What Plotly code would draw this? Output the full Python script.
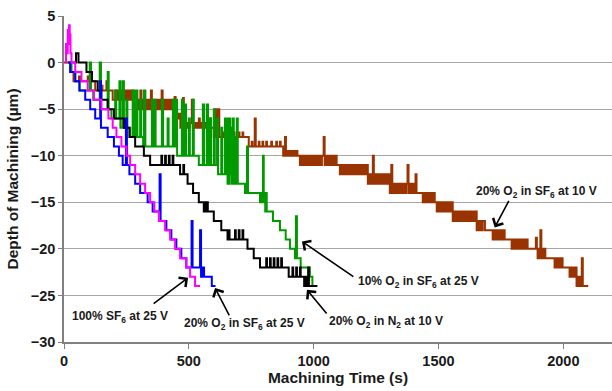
import plotly.graph_objects as go

# ---------------- data ----------------
x_ticks = [0, 500, 1000, 1500, 2000]
y_ticks = [-30, -25, -20, -15, -10, -5, 0, 5]

# 100% SF6 at 25 V (magenta)
magenta_t = [5, 8, 12, 15, 18, 20, 23, 26, 30, 45, 70, 95, 120, 150, 178, 195, 210, 230, 250, 265,
             285, 305, 325, 345, 362, 380, 405, 425, 445, 465, 490, 505, 525, 545]
magenta_y = [0, 2, 1, 3.5, 2, 4, 3, 1, 0, -1, -2, -3, -4, -5, -6, -7, -8, -9, -10, -11,
             -12, -13, -14, -15, -16, -17, -18, -19, -20, -21, -22, -23, -24, -24]

# 20% O2 in SF6 at 25 V (blue)
blue_t = [17, 25, 45, 62, 85, 105, 125, 145, 148, 175,
          200, 220, 235, 248, 252, 262, 285, 305, 335, 355,
          383, 387, 410, 430, 450, 470, 490, 511, 515, 545,
          549, 552, 555, 558, 561, 592, 607]
blue_y = [0, -1, -2, -3, -4, -5, -6, -2, -7, -8,
          -9, -10, -11, -6, -11, -12, -13, -14, -15, -16,
          -12, -17, -18, -19, -20, -21, -22, -17, -22, -18,
          -23, -22, -23, -22, -23, -24, -24]

# 20% O2 in N2 at 10 V (black)
black_t = [35, 48, 58, 90, 112, 135, 150, 175, 200, 240,
           262, 285, 320, 345, 390, 393, 405, 408, 420, 423,
           435, 438, 465, 478, 481, 495, 517, 540, 560, 567,
           570, 573, 576, 600, 630, 655, 660, 663, 685, 688,
           700, 703, 715, 718, 735, 760, 785, 810, 813, 825,
           828, 840, 843, 855, 858, 870, 873, 900, 915, 918,
           930, 933, 945, 948, 962, 965, 968, 971, 975, 978,
           981, 1015]
black_y = [0, 1, 0, -1, -2, -3, -4, -5, -6, -7,
           -8, -9, -10, -11, -10, -11, -10, -11, -10, -11,
           -10, -11, -12, -11, -12, -13, -14, -15, -16, -15,
           -16, -15, -16, -17, -18, -19, -18, -19, -18, -19,
           -18, -19, -18, -19, -20, -21, -22, -21, -22, -21,
           -22, -21, -22, -21, -22, -21, -22, -23, -22, -23,
           -22, -23, -22, -23, -24, -23, -24, -23, -24, -22,
           -24, -24]

# 10% O2 in SF6 at 25 V (green)
green_t = [15, 30, 45, 62, 103, 108, 117, 143, 148, 175,
           179, 190, 205, 209, 222, 226, 235, 240, 250, 254,
           265, 275, 280, 288, 294, 305, 309, 317, 320, 326,
           352, 358, 362, 367, 392, 397, 415, 419, 436, 441,
           449, 453, 472, 476, 484, 489, 500, 504, 516, 520,
           540, 556, 561, 572, 577, 585, 589, 600, 604, 613,
           617, 630, 634, 645, 648, 652, 655, 658, 661, 664,
           667, 670, 673, 677, 680, 684, 687, 692, 696, 725,
           733, 737, 785, 793, 797, 800, 803, 806, 809, 812,
           837, 865, 888, 905, 925, 929, 933, 948, 985, 995,
           1005]
green_y = [0, -1, -2, -3, 0, -3, -4, 0, -5, -1,
           -5, -6, -3, -6, -2, -7, -2, -7, -4, -7,
           -8, -3, -8, -3, -8, -4, -8, -9, -3, -9,
           -4, -9, -4, -9, -4, -9, -6, -9, -4, -9,
           -4, -10, -4, -10, -4.5, -10, -6, -10, -4, -10,
           -11, -4.5, -11, -4.5, -11, -6, -11, -5, -11, -6,
           -12, -7, -12, -6, -12, -6, -13, -6, -13, -6,
           -12, -7, -13, -6, -13, -8, -13, -6, -13, -14,
           -9, -14, -15, -14, -10, -15, -14, -16, -14, -16,
           -17, -18, -19, -20, -21, -16.5, -21, -22, -23, -24,
           -24]

# 20% O2 in SF6 at 10 V (brown): (time, depth) steps
brown_steps = [
    (0, 0), (25, -1), (38, -2), (60, -1.5), (64, -2), (95, -1.5), (99, -2), (125, -3), (150, -2.5), (154, -3),
    (170, -2), (174, -3), (195, -4), (205, -3), (212, -4), (220, -3), (228, -4), (236, -3), (244, -4), (252, -3),
    (260, -4), (268, -3), (276, -4),
    (285, -5), (293, -4), (301, -5), (306, -3), (310, -5), (318, -4), (326, -5), (334, -4), (342, -5), (348, -3),
    (352, -5), (360, -4), (368, -5), (376, -4), (384, -5), (391, -3), (395, -5), (403, -4), (411, -5), (419, -4),
    (427, -5), (435, -4), (443, -3.7), (447, -5),
    (453, -6), (460, -5.5), (466, -7),
    (474, -6.5), (477, -3.8), (480, -7), (488, -6.5), (496, -7), (504, -6.5), (512, -4), (516, -7), (524, -6.5),
    (532, -7), (540, -6), (544, -7), (552, -6.5), (560, -7), (568, -6.5), (576, -7), (584, -6), (588, -7),
    (600, -8), (606, -5), (610, -8), (618, -5), (622, -8), (635, -7.5), (638, -8), (650, -7.5), (653, -8),
    (665, -7.5), (668, -8), (680, -7.5), (683, -8), (700, -7.5), (703, -8), (715, -7.5), (718, -8),
    (740, -9), (752, -8.5), (755, -9), (764, -6), (768, -9), (780, -8.5), (783, -9), (795, -8.5), (798, -9),
    (810, -8.5), (813, -9), (830, -8.5), (833, -9), (850, -8.5), (853, -9), (865, -8.5), (868, -9),
    (878, -10), (885, -8), (889, -10), (895, -9.5), (903, -10), (911, -9.5), (919, -10), (927, -9.5), (935, -10),
    (945, -11), (953, -10), (961, -11), (969, -10), (977, -11), (985, -10), (993, -11), (1001, -10), (1009, -11),
    (1017, -10), (1025, -11), (1033, -10), (1040, -8), (1044, -11), (1052, -10), (1060, -11), (1068, -10),
    (1076, -11), (1084, -10), (1092, -11),
    (1105, -12), (1113, -11), (1121, -12), (1129, -11), (1137, -12), (1145, -11), (1153, -12), (1161, -11),
    (1169, -12), (1177, -11), (1185, -12), (1193, -11), (1201, -12), (1209, -11),
    (1217, -13), (1225, -12), (1233, -13), (1237, -10), (1241, -13), (1249, -12), (1257, -13), (1265, -12),
    (1273, -13), (1281, -12), (1289, -13), (1297, -12),
    (1305, -14), (1311, -11), (1315, -14), (1323, -13), (1331, -14), (1339, -13), (1347, -14), (1355, -13),
    (1363, -14), (1371, -13), (1376, -11), (1380, -14), (1388, -13), (1396, -14), (1404, -13), (1408, -12),
    (1412, -14),
    (1437, -15), (1445, -14), (1453, -15), (1461, -14), (1469, -15), (1477, -14), (1485, -15),
    (1493, -16), (1501, -15), (1509, -16), (1517, -15), (1525, -16), (1533, -15), (1541, -16), (1549, -15),
    (1557, -17), (1565, -16), (1573, -17), (1581, -16), (1589, -17), (1597, -16), (1605, -17), (1613, -16),
    (1621, -17), (1629, -16), (1637, -17), (1645, -16),
    (1653, -18), (1661, -17), (1669, -18), (1677, -17), (1686, -18),
    (1717, -19), (1725, -18), (1733, -19), (1741, -18), (1749, -19), (1757, -18), (1765, -19),
    (1793, -20), (1801, -19), (1809, -20), (1817, -19), (1825, -20), (1833, -19), (1841, -20), (1849, -19),
    (1857, -20), (1890, -18.8), (1894, -20),
    (1897, -21), (1905, -20), (1908, -18), (1912, -21), (1920, -20), (1928, -21),
    (1965, -22), (1973, -21), (1981, -22), (1989, -21), (1997, -22),
    (2025, -23), (2033, -22), (2041, -23), (2049, -22),
    (2053, -24), (2061, -23), (2069, -24), (2074, -21), (2078, -24), (2100, -24),
]
brown_t = [p[0] for p in brown_steps]
brown_y = [p[1] for p in brown_steps]

# annotation labels (text at label_t/label_y, arrow from tail to head)
label_text = ["100% SF<sub>6</sub> at 25 V",
              "20% O<sub>2</sub> in SF<sub>6</sub> at 25 V",
              "10% O<sub>2</sub> in SF<sub>6</sub> at 25 V",
              "20% O<sub>2</sub> in N<sub>2</sub> at 10 V",
              "20% O<sub>2</sub> in SF<sub>6</sub> at 10 V"]
label_t = [225, 721, 1421, 1289, 1893]
label_y = [-27.3, -28.1, -23.6, -27.9, -13.9]
head_t = [497, 605, 953, 973, 1725]
head_y = [-23.1, -24.2, -19.2, -24.4, -17.7]
tail_t = [353, 665, 1165, 1057, 1785]
tail_y = [-26.0, -27.3, -23.1, -27.1, -14.7]

# ---------------- figure ----------------
FONT = "Liberation Sans, Arial, sans-serif"
fig = go.Figure()

series = [
    (brown_t, brown_y, "#993300", "20% O2 in SF6 at 10 V"),
    (green_t, green_y, "#009900", "10% O2 in SF6 at 25 V"),
    (black_t, black_y, "#000000", "20% O2 in N2 at 10 V"),
    (blue_t, blue_y, "#0000FF", "20% O2 in SF6 at 25 V"),
    (magenta_t, magenta_y, "#FF00FF", "100% SF6 at 25 V"),
]
for t, y, c, name in series:
    fig.add_trace(go.Scatter(x=t, y=y, mode="lines", name=name,
                             line=dict(color=c, width=2, shape="hv")))

for i in range(len(label_text)):
    fig.add_annotation(x=label_t[i], y=label_y[i], xref="x", yref="y",
                       text="<b>" + label_text[i] + "</b>", showarrow=False,
                       font=dict(family=FONT, size=12, color="#1a1a1a"))
    fig.add_annotation(x=head_t[i], y=head_y[i], xref="x", yref="y",
                       ax=tail_t[i], ay=tail_y[i], axref="x", ayref="y",
                       text="", showarrow=True, arrowhead=4, arrowsize=1.4,
                       arrowwidth=1.6, arrowcolor="#000000")

fig.update_layout(
    width=612, height=391,
    margin=dict(l=64, r=0, t=16, b=49, autoexpand=False),
    paper_bgcolor="white", plot_bgcolor="white",
    showlegend=False,
    font=dict(family=FONT, color="#1a1a1a"),
    xaxis=dict(range=[0, 2195], tickvals=x_ticks, showgrid=False, zeroline=False,
               automargin=False,
               showline=True, linecolor="#808080", linewidth=1.5,
               ticks="outside", ticklen=5, tickcolor="#808080", tickwidth=1.2,
               tickfont=dict(family=FONT, size=14.5, color="#1a1a1a", weight="bold"),
               title=dict(text="<b>Machining Time (s)</b>", standoff=4,
                          font=dict(family=FONT, size=15.5, color="#1a1a1a"))),
    yaxis=dict(range=[-30, 5], tickvals=y_ticks, showgrid=True, gridcolor="#a6a6a6",
               gridwidth=1, zeroline=False, automargin=False,
               showline=True, linecolor="#808080", linewidth=1.5,
               ticks="outside", ticklen=4, tickcolor="#808080", tickwidth=1.2,
               tickfont=dict(family=FONT, size=14.5, color="#1a1a1a", weight="bold"),
               title=dict(text="<b>Depth of Machining (µm)</b>", standoff=8,
                          font=dict(family=FONT, size=15.5, color="#1a1a1a"))),
)

fig.write_html("out.html", config={"displayModeBar": False},
               post_script="document.body.style.margin='0px';")
